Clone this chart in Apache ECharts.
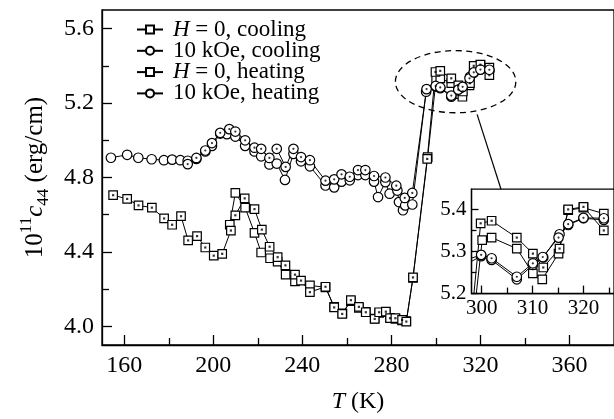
<!DOCTYPE html>
<html><head><meta charset="utf-8">
<script src="https://cdn.jsdelivr.net/npm/echarts@6/dist/echarts.min.js"></script>
<style>html,body{margin:0;padding:0;background:#fff}#c{width:614px;height:419px}</style>
</head><body><div id="c"></div>
<script>
// ---- data (T in K, value in 10^11 erg/cm) ----
const h0Cooling = [[207.4,4.546],[209.9,4.717],[214.3,4.638],[218.5,4.503],[221.5,4.397],[225.5,4.366],[228.9,4.348],[232.5,4.278],[236.7,4.242],[243.4,4.220],[250.4,4.210],[254.3,4.105],[258.0,4.070],[261.8,4.135],[265.4,4.100],[268.5,4.078],[272.5,4.042],[274.5,4.072],[277.5,4.076],[279.4,4.046],[281.8,4.040],[284.8,4.032],[286.7,4.028],[289.7,4.260],[296.3,4.910],[300.1,5.327],[301.95,5.333],[306.9,5.307],[310.06,5.248],[311.9,5.234],[315.1,5.295],[317.0,5.398],[320.0,5.404],[324.0,5.390]];
const k10Cooling = [[154.0,4.906],[161.3,4.922],[166.3,4.906],[172.3,4.898],[177.8,4.893],[181.5,4.896],[185.2,4.893],[188.5,4.890],[192.4,4.900],[196.4,4.940],[199.4,4.970],[203.1,5.036],[206.1,5.033],[209.9,5.020],[214.3,4.970],[218.5,4.940],[221.5,4.914],[225.2,4.870],[228.5,4.875],[232.2,4.787],[236.0,4.927],[239.4,4.887],[243.4,4.860],[250.4,4.757],[254.3,4.747],[257.6,4.778],[261.3,4.785],[265.0,4.813],[268.3,4.813],[272.2,4.778],[274.0,4.695],[277.3,4.775],[279.2,4.713],[282.7,4.730],[283.4,4.668],[285.2,4.624],[286.2,4.650],[289.4,4.655],[295.6,5.261],[299.9,5.289],[301.95,5.280],[306.9,5.234],[310.06,5.268],[312.1,5.286],[315.3,5.341],[317.0,5.363],[320.0,5.379],[324.0,5.375]];
const h0Heating = [[155.0,4.705],[161.3,4.685],[166.4,4.650],[172.4,4.638],[177.9,4.580],[181.5,4.546],[185.5,4.592],[188.7,4.462],[192.7,4.485],[196.4,4.424],[200.2,4.380],[204.0,4.390],[207.9,4.515],[209.9,4.597],[214.1,4.688],[218.5,4.630],[221.8,4.520],[225.3,4.428],[228.9,4.372],[232.4,4.328],[236.7,4.278],[239.4,4.246],[243.4,4.184],[250.4,4.213],[254.3,4.102],[257.9,4.067],[261.8,4.141],[265.4,4.105],[268.5,4.076],[272.5,4.040],[274.5,4.076],[277.5,4.079],[279.4,4.044],[281.8,4.044],[284.8,4.035],[286.7,4.026],[289.7,4.263],[296.1,4.900],[299.8,5.367],[301.95,5.373],[306.9,5.333],[310.06,5.295],[312.1,5.262],[315.3,5.307],[317.0,5.400],[320.0,5.406],[324.0,5.350]];
const k10Heating = [[188.5,4.872],[192.4,4.905],[196.4,4.945],[199.4,4.985],[203.1,5.040],[207.2,5.060],[209.9,5.047],[214.3,5.000],[218.5,4.960],[221.5,4.954],[225.2,4.905],[228.5,4.954],[232.5,4.857],[236.0,4.954],[239.4,4.910],[243.4,4.893],[250.4,4.783],[254.3,4.790],[257.6,4.817],[261.3,4.804],[265.0,4.840],[268.3,4.840],[272.2,4.808],[277.3,4.800],[282.2,4.756],[286.0,4.690],[289.4,4.717],[295.8,5.275],[299.9,5.292],[301.95,5.284],[306.9,5.240],[310.06,5.272],[312.0,5.287],[315.1,5.333],[317.0,5.365],[320.0,5.380],[324.0,5.379]];
const seriesNames = ['H = 0, cooling', '10 kOe, cooling', 'H = 0, heating', '10 kOe, heating'];
// ---- ticks ----
const mainXMajor = [160, 200, 240, 280, 320, 360];
const mainXMinor = [180, 220, 260, 300, 340];
const mainYMajor = [4.0, 4.4, 4.8, 5.2, 5.6];
const mainYMinor = [4.2, 4.6, 5.0, 5.4];
const insetXMajor = [300, 310, 320];
const insetXMinor = [305, 315, 325];
const insetYMajor = [5.2, 5.3, 5.4];
const insetYMinor = [5.25, 5.35];
// ---- annotation anchors (data space) ----
const zoomEllipse = { center: [308.85, 5.315], rx: 27.05, ry: 0.167 };
const connectorMain = [318.5, 5.139];
const connectorInset = [303.8, 5.448];

const FONT = '"Liberation Serif", "Times New Roman", serif';
const BLACK = '#000';
const chart = echarts.init(document.getElementById('c'), null, { renderer: 'canvas' });

function xAxisDef(grid, min, max, ticks, len, labels, fs, extra) {
  return Object.assign({
    type: 'value', gridIndex: grid, position: 'bottom', min: min, max: max,
    axisLine: { show: labels, lineStyle: { color: BLACK, width: 1.3 } },
    axisTick: { show: true, inside: true, length: len, customValues: ticks, lineStyle: { color: BLACK, width: 1.3 } },
    axisLabel: { show: labels, customValues: ticks, color: BLACK, fontFamily: FONT, fontSize: fs, margin: 9 },
    splitLine: { show: false }
  }, extra || {});
}
function yAxisDef(grid, min, max, ticks, len, labels, fs, extra) {
  return Object.assign({
    type: 'value', gridIndex: grid, position: 'left', min: min, max: max,
    axisLine: { show: labels, lineStyle: { color: BLACK, width: 1.3 } },
    axisTick: { show: true, inside: true, length: len, customValues: ticks, lineStyle: { color: BLACK, width: 1.3 } },
    axisLabel: { show: labels, customValues: ticks, color: BLACK, fontFamily: FONT, fontSize: fs, margin: 8, formatter: v => Number(v).toFixed(1) },
    splitLine: { show: false }
  }, extra || {});
}

const symbolFor = ['rect', 'circle', 'rect', 'circle'];
const dataFor = [h0Cooling, k10Cooling, h0Heating, k10Heating];
const series = [];
function addSet(xi, yi) {
  for (let i = 0; i < 4; i++) {
    series.push({
      type: 'line', name: seriesNames[i], xAxisIndex: xi, yAxisIndex: yi, data: dataFor[i],
      symbol: symbolFor[i], symbolSize: symbolFor[i] === 'rect' ? 8.5 : 9.5, showAllSymbol: true, clip: true,
      lineStyle: { color: BLACK, width: 1 },
      itemStyle: { color: '#fff', borderColor: BLACK, borderWidth: 1.2 },
      z: 2
    });
  }
  [2, 3].forEach(i => {
    series.push({
      type: 'scatter', name: 'dot' + i + '_' + xi, xAxisIndex: xi, yAxisIndex: yi, data: dataFor[i],
      symbol: symbolFor[i] === 'rect' ? 'rect' : 'circle', symbolSize: 2.2, clip: true, silent: true,
      itemStyle: { color: BLACK }, z: 3
    });
  });
}
addSet(0, 0);
addSet(2, 2);

chart.setOption({
  animation: false,
  backgroundColor: '#fff',
  textStyle: { fontFamily: FONT },
  grid: [
    { left: 102, top: 10, width: 514, height: 341.3, show: true, borderColor: BLACK, borderWidth: 1.3, backgroundColor: 'transparent' },
    { left: 471.5, top: 189.2, width: 143.6, height: 104.4, show: true, borderColor: BLACK, borderWidth: 1.3, backgroundColor: '#fff' }
  ],
  xAxis: [
    xAxisDef(0, 150, 380, mainXMajor, 10, true, 24, {
      name: '{i|T} (K)', nameLocation: 'middle', nameGap: 45,
      nameTextStyle: { color: BLACK, fontFamily: FONT, fontSize: 24, rich: { i: { fontStyle: 'italic', fontFamily: FONT, fontSize: 24 } } }
    }),
    xAxisDef(0, 150, 380, mainXMinor, 7, false, 24),
    xAxisDef(1, 298, 326, insetXMajor, 8, true, 21, { axisLabel: { show: true, customValues: insetXMajor, color: BLACK, fontFamily: FONT, fontSize: 21, margin: 4 } }),
    xAxisDef(1, 298, 326, insetXMinor, 6, false, 21)
  ],
  yAxis: [
    yAxisDef(0, 3.9, 5.7, mainYMajor, 10, true, 24, {
      name: '{a|10}{sup|11}{c|c}{sub|44}{a| (erg/cm)}', nameLocation: 'middle', nameGap: 50, nameRotate: 90,
      nameTextStyle: { color: BLACK, fontFamily: FONT, fontSize: 25, rich: {
        a: { fontFamily: FONT, fontSize: 25, lineHeight: 34, verticalAlign: 'middle' },
        sup: { fontFamily: FONT, fontSize: 17, verticalAlign: 'top', lineHeight: 17 },
        c: { fontFamily: FONT, fontSize: 25, fontStyle: 'italic', lineHeight: 34, verticalAlign: 'middle' },
        sub: { fontFamily: FONT, fontSize: 17, verticalAlign: 'bottom', lineHeight: 17 }
      } }
    }),
    yAxisDef(0, 3.9, 5.7, mainYMinor, 7, false, 24),
    yAxisDef(1, 5.2, 5.448, insetYMajor, 7, true, 21, { axisLabel: { show: true, customValues: insetYMajor, color: BLACK, fontFamily: FONT, fontSize: 21, margin: 5, formatter: v => Number(v).toFixed(1) } }),
    yAxisDef(1, 5.2, 5.448, insetYMinor, 5, false, 21)
  ],
  legend: {
    data: seriesNames, orient: 'vertical', left: 131, top: 13, itemWidth: 26, itemHeight: 10, itemGap: -1.7,
    selectedMode: false,
    formatter: n => n.replace(/^H /, '{i|H} '),
    textStyle: { color: BLACK, fontFamily: FONT, fontSize: 23, lineHeight: 20, padding: [0, 0, 0, 5],
      rich: { i: { fontStyle: 'italic', fontFamily: FONT, fontSize: 23, lineHeight: 20 } } }
  },
  series: series
});

const pMain = p => chart.convertToPixel({ xAxisIndex: 0, yAxisIndex: 0 }, p);
const pInset = p => chart.convertToPixel({ xAxisIndex: 2, yAxisIndex: 2 }, p);
const c0 = pMain(zoomEllipse.center);
const cx1 = pMain([zoomEllipse.center[0] + zoomEllipse.rx, zoomEllipse.center[1]]);
const cy1 = pMain([zoomEllipse.center[0], zoomEllipse.center[1] + zoomEllipse.ry]);
const a = pMain(connectorMain);
const b = pInset(connectorInset);
chart.setOption({
  graphic: [
    { type: 'ellipse', silent: true, z: 10, shape: { cx: c0[0], cy: c0[1], rx: Math.abs(cx1[0] - c0[0]), ry: Math.abs(c0[1] - cy1[1]) },
      style: { fill: 'none', stroke: BLACK, lineWidth: 1.3, lineDash: [6, 4.5] } },
    { type: 'line', silent: true, z: 10, shape: { x1: a[0], y1: a[1], x2: b[0], y2: b[1] }, style: { stroke: BLACK, lineWidth: 1.2 } }
  ]
});
</script></body></html>
